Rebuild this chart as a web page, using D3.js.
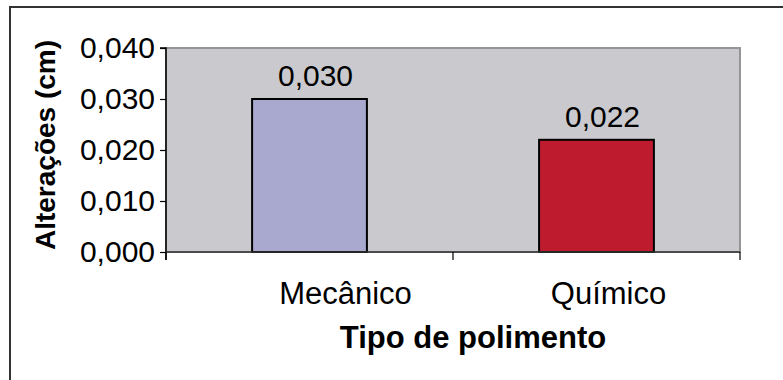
<!DOCTYPE html>
<html>
<head>
<meta charset="utf-8">
<script src="https://cdn.jsdelivr.net/npm/d3@7"></script>
<style>
  html, body { margin: 0; padding: 0; background: #fff; }
  svg text { font-family: "Liberation Sans", Arial, sans-serif; fill: #000; }
</style>
</head>
<body>
<svg id="chart" width="783" height="380"></svg>
<script>
// Polishing method vs. measured change
const categories = ["Mecânico", "Químico"];
const values = [0.030, 0.022];
const valueLabels = ["0,030", "0,022"];
const barColors = ["#A9A9D0", "#BE1C2E"];
const yTicks = [0, 0.01, 0.02, 0.03, 0.04];
const yTickLabels = ["0,000", "0,010", "0,020", "0,030", "0,040"];
const xTitle = "Tipo de polimento";
const yTitle = "Alterações (cm)";

const svg = d3.select("#chart");
const plot = { left: 166, right: 740, top: 48, bottom: 252 };
const FONT = "Liberation Sans, Arial, sans-serif";

// outer frame (right/bottom edges fall outside the canvas)
svg.append("rect")
  .attr("x", 10).attr("y", 7)
  .attr("width", 900).attr("height", 500)
  .attr("fill", "#fff").attr("stroke", "#333").attr("stroke-width", 2);

const x = d3.scaleBand().domain(categories).range([plot.left, plot.right]).paddingInner(0).paddingOuter(0);
const y = d3.scaleLinear().domain([0, 0.04]).range([plot.bottom, plot.top]);

// plot background
svg.append("rect")
  .attr("x", plot.left).attr("y", plot.top)
  .attr("width", plot.right - plot.left).attr("height", plot.bottom - plot.top)
  .attr("fill", "#CACACE").attr("stroke", "#959595").attr("stroke-width", 2);

// bars: width = band / (1 + gap 150%)
const barW = x.bandwidth() / 2.5;
svg.append("g").selectAll("rect")
  .data(categories)
  .join("rect")
  .attr("x", (d) => x(d) + (x.bandwidth() - barW) / 2)
  .attr("y", (d, i) => y(values[i]))
  .attr("width", barW)
  .attr("height", (d, i) => y(0) - y(values[i]))
  .attr("fill", (d, i) => barColors[i])
  .attr("stroke", "#000").attr("stroke-width", 2);

// value labels
svg.append("g").selectAll("text")
  .data(categories)
  .join("text")
  .attr("x", (d) => x(d) + x.bandwidth() / 2 + 6)
  .attr("y", (d, i) => y(values[i]) - 13)
  .attr("text-anchor", "middle")
  .attr("font-size", 30)
  .text((d, i) => valueLabels[i]);

// y axis
const yAxis = d3.axisLeft(y)
  .tickValues(yTicks)
  .tickFormat((d, i) => yTickLabels[i])
  .tickSize(6).tickPadding(5);
const gy = svg.append("g").attr("transform", `translate(${plot.left},0)`).call(yAxis);
gy.select(".domain").attr("stroke", "#000").attr("stroke-width", 1.5).attr("d", `M-6,${plot.top}H0V${plot.bottom + 8}`);
gy.selectAll(".tick line").attr("stroke", "#000").attr("stroke-width", 1.2);
gy.selectAll(".tick text").attr("font-size", 30).attr("font-family", FONT).attr("fill", "#000");

// x axis: category boundary ticks
const bounds = [plot.left, plot.left + x.bandwidth(), plot.right];
const gx = svg.append("g");
gx.append("line")
  .attr("x1", plot.left).attr("x2", plot.right)
  .attr("y1", plot.bottom).attr("y2", plot.bottom)
  .attr("stroke", "#333").attr("stroke-width", 1.5);
gx.selectAll("line.b").data(bounds).join("line").attr("class", "b")
  .attr("x1", (d) => d).attr("x2", (d) => d)
  .attr("y1", plot.bottom).attr("y2", plot.bottom + 8)
  .attr("stroke", "#000").attr("stroke-width", 1.2);
// category labels sit slightly right of their band centres
const catShift = [36, 12];
gx.selectAll("text").data(categories).join("text")
  .attr("x", (d, i) => x(d) + x.bandwidth() / 2 + catShift[i])
  .attr("y", 304)
  .attr("text-anchor", "middle")
  .attr("font-size", 31)
  .text((d) => d);

// axis titles
svg.append("text")
  .attr("x", (plot.left + plot.right) / 2 + 20)
  .attr("y", 348)
  .attr("text-anchor", "middle")
  .attr("font-size", 31).attr("font-weight", "bold")
  .text(xTitle);

svg.append("text")
  .attr("transform", `translate(55,${(plot.top + plot.bottom) / 2 - 5}) rotate(-90)`)
  .attr("text-anchor", "middle")
  .attr("font-size", 28).attr("font-weight", "bold")
  .text(yTitle);
</script>
</body>
</html>
